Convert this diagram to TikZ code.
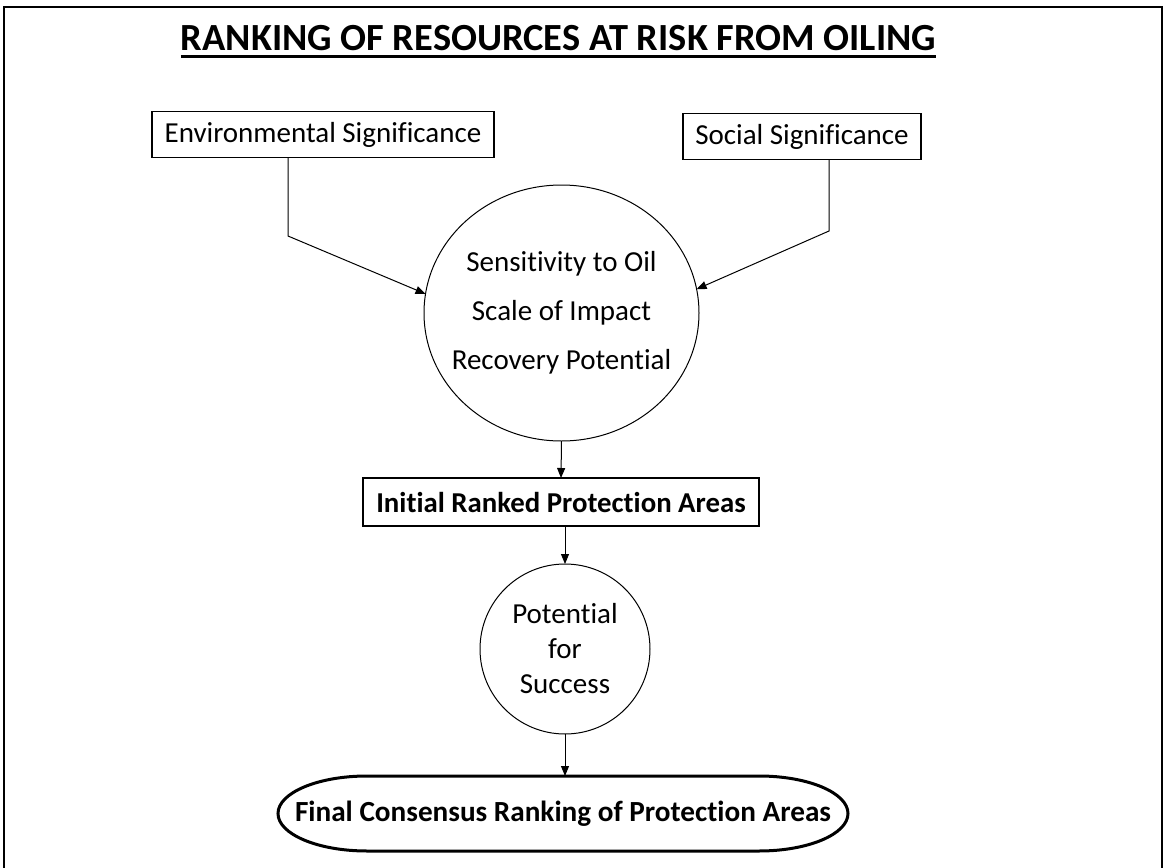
\documentclass[tikz,border=0pt]{standalone}
\usepackage{fontspec}
\setmainfont{Carlito}[Ligatures=NoCommon]
\usetikzlibrary{arrows.meta,shapes.geometric}
\begin{document}
\begin{tikzpicture}[x=0.5pt,y=-0.5pt,inner sep=0pt,outer sep=0pt,
>={Triangle[length=5pt,width=4pt]},
sigblock/.style={draw,rectangle,font=\fontsize{14.5}{16}\selectfont,minimum height=23pt,line width=0.6pt},
rankblock/.style={draw,rectangle,font=\bfseries\fontsize{14.4}{16}\selectfont,minimum width=198pt,minimum height=24pt,line width=0.6pt},
factor/.style={draw,ellipse,align=center,inner xsep=-20pt,inner ysep=-15pt,line width=0.5pt},
link/.style={->,line width=0.5pt}]
\useasboundingbox (0,0) rectangle (1164,868);
\draw[line width=1pt] (4,868) -- (4,7) -- (1162,7) -- (1162,868);
% title
\node[anchor=base,font=\bfseries\fontsize{19.2}{21}\selectfont] (title) at (558.5,50) {RANKING OF RESOURCES AT RISK FROM OILING};
\draw[line width=1.5pt] ([yshift=-3pt]title.base west) -- ([yshift=-3pt]title.base east);
% significance
\node[sigblock,minimum width=171pt] (env) at (323,134.5) {Environmental Significance};
\node[sigblock,minimum width=119pt] (soc) at (802,136.5) {Social Significance};
\node[factor,font=\fontsize{14.5}{24.5}\selectfont,minimum width=137.5pt,minimum height=128pt] (sens) at (561.5,313) {Sensitivity to Oil\\Scale of Impact\\Recovery Potential};
\coordinate (envbend) at (288,236);
\coordinate (socbend) at (829,231);
\draw[link] (env.south -| envbend) -- (envbend) -- (sens.172);
\draw[link] (soc.south -| socbend) -- (socbend) -- (sens.10);
% ranking
\node[rankblock] (rank) at (561,502) {Initial Ranked Protection Areas};
\node[factor,font=\fontsize{14.5}{17.5}\selectfont,minimum width=85pt,minimum height=85pt] (succ) at (565,649) {Potential\\for\\Success};
\node[font=\bfseries\fontsize{14.6}{16}\selectfont,minimum width=285pt,minimum height=37.5pt] (final) at (563,813.5) {Final Consensus Ranking of Protection Areas};
\draw[line width=1.5pt] ([xshift=44.5pt]final.north west) -- ([xshift=-44.5pt]final.north east)
  arc[start angle=90,end angle=-90,x radius=44.5pt,y radius=18.75pt] -- ([xshift=44.5pt]final.south west)
  arc[start angle=270,end angle=90,x radius=44.5pt,y radius=18.75pt] -- cycle;
\draw[link] (sens.south) -- (rank.north);
\draw[link] (rank.south -| succ.north) -- (succ.north);
\draw[link] (succ.south) -- (succ.south |- final.north);
\end{tikzpicture}
\end{document}
